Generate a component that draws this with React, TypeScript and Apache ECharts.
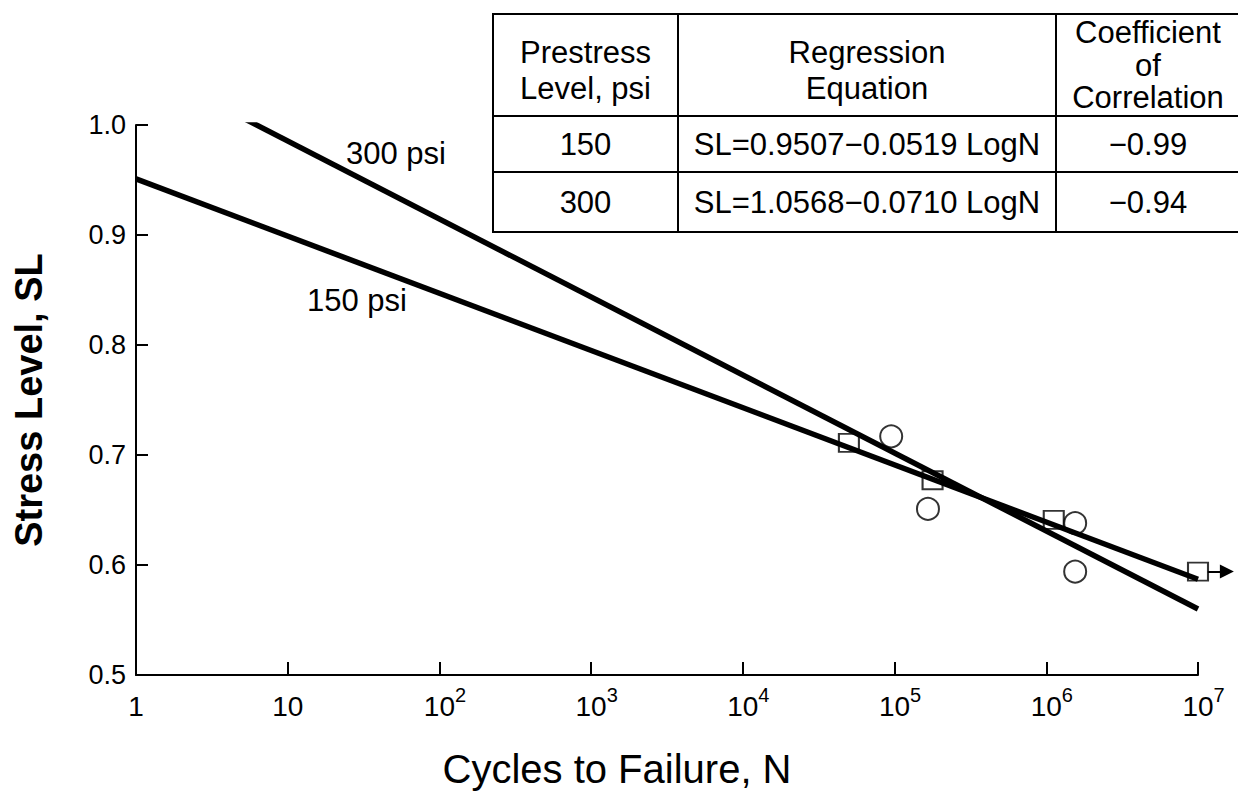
import React, { useEffect, useRef } from "react";
import * as echarts from "echarts";

// ---- data ----
const xMin = 1;
const xMax = 1e7;
const yMin = 0.5;
const yMax = 1.0;
const yInterval = 0.1;

// regression lines (end points as drawn)
const line150: [number, number][] = [
  [1, 0.951],
  [1e7, 0.587],
];
const line300: [number, number][] = [
  [5.3, 1.005],
  [1e7, 0.56],
];

// test results: squares and circles
const squarePoints: [number, number][] = [
  [5.0e4, 0.711],
  [1.78e5, 0.677],
  [1.12e6, 0.641],
  [1.0e7, 0.594],
];
const circlePoints: [number, number][] = [
  [9.5e4, 0.717],
  [1.66e5, 0.651],
  [1.55e6, 0.638],
  [1.55e6, 0.594],
];
// run-out arrow after the last square
const runoutArrow: [number, number][] = [
  [1.16e7, 0.594],
  [1.55e7, 0.594],
];

// table
const tableHeaders = ["Prestress\nLevel, psi", "Regression\nEquation", "Coefficient\nof\nCorrelation"];
const prestressLevels = ["150", "300"];
const equations = ["SL=0.9507\u22120.0519 LogN", "SL=1.0568\u22120.0710 LogN"];
const correlations = ["\u22120.99", "\u22120.94"];

const lineLabels = ["300 psi", "150 psi"];
const xTitle = "Cycles to Failure, N";
const yTitle = "Stress Level, SL";

const FONT = '"Liberation Sans", Arial, Helvetica, sans-serif';

export default function App() {
  const ref = useRef<HTMLDivElement>(null);

  useEffect(() => {
    if (!ref.current) return;
    const chart = echarts.init(ref.current, undefined, { renderer: "svg" });

    // table layout
    const tL = 493, tT = 14, tR = 1254;
    const rowB = [116, 172, 232];
    const colX = [493, 678, 1056, 1254];
    const colC = [(colX[0] + colX[1]) / 2, (colX[1] + colX[2]) / 2, 1148];
    const tableFont = `31px ${FONT}`;
    const lineStyle = { stroke: "#000", lineWidth: 2 };
    const tableEls: any[] = [
      { type: "rect", shape: { x: tL, y: tT, width: tR - tL, height: rowB[2] - tT }, style: { fill: "#fff", ...lineStyle } },
      { type: "line", shape: { x1: tL, y1: rowB[0], x2: tR, y2: rowB[0] }, style: lineStyle },
      { type: "line", shape: { x1: tL, y1: rowB[1], x2: tR, y2: rowB[1] }, style: lineStyle },
      { type: "line", shape: { x1: colX[1], y1: tT, x2: colX[1], y2: rowB[2] }, style: lineStyle },
      { type: "line", shape: { x1: colX[2], y1: tT, x2: colX[2], y2: rowB[2] }, style: lineStyle },
    ];
    const headerY = [70, 70, 65];
    const headerLH = [36, 36, 32.5];
    tableHeaders.forEach((h, i) => {
      tableEls.push({
        type: "text",
        style: { text: h, x: colC[i], y: headerY[i], font: tableFont, align: "center", verticalAlign: "middle", lineHeight: headerLH[i], fill: "#000" },
      });
    });
    const rowC = [(rowB[0] + rowB[1]) / 2, (rowB[1] + rowB[2]) / 2];
    prestressLevels.forEach((p, r) => {
      [p, equations[r], correlations[r]].forEach((t, c) => {
        tableEls.push({
          type: "text",
          style: { text: t, x: colC[c], y: rowC[r], font: tableFont, align: "center", verticalAlign: "middle", fill: "#000" },
        });
      });
    });

    const option: any = {
      animation: false,
      backgroundColor: "#fff",
      grid: { left: 136, right: 40, top: 125, bottom: 122, containLabel: false },
      xAxis: {
        type: "log",
        logBase: 10,
        min: xMin,
        max: xMax,
        splitNumber: 7,
        name: xTitle,
        nameLocation: "middle",
        nameGap: 74,
        nameTextStyle: { fontFamily: FONT, fontSize: 40, color: "#000", padding: [0, 100, 0, 0] },
        axisLine: { show: true, lineStyle: { color: "#000", width: 2 } },
        axisTick: { show: true, inside: true, length: 13, lineStyle: { color: "#000", width: 2 } },
        splitLine: { show: false },
        minorTick: { show: false },
        axisLabel: {
          margin: 10,
          color: "#000",
          fontFamily: FONT,
          formatter: (v: number) => {
            const e = Math.round(Math.log10(v));
            if (e === 0) return "{b|1}";
            if (e === 1) return "{b|10}";
            return `{p|}{b|10}{s|${e}}`;
          },
          rich: {
            b: { fontFamily: FONT, fontSize: 28, lineHeight: 42, color: "#000" },
            s: { fontFamily: FONT, fontSize: 20, lineHeight: 14, verticalAlign: "top", color: "#000" },
            p: { width: 11 },
          },
        },
      },
      yAxis: {
        type: "value",
        min: yMin,
        max: yMax,
        interval: yInterval,
        name: yTitle,
        nameLocation: "middle",
        nameRotate: 90,
        nameGap: 88,
        nameTextStyle: { fontFamily: FONT, fontSize: 38, fontWeight: "bold", color: "#000" },
        axisLine: { show: true, lineStyle: { color: "#000", width: 2 } },
        axisTick: { show: true, inside: true, length: 12, lineStyle: { color: "#000", width: 2 } },
        splitLine: { show: false },
        axisLabel: {
          margin: 10,
          color: "#000",
          fontFamily: FONT,
          fontSize: 27,
          formatter: (v: number) => v.toFixed(1),
        },
      },
      series: [
        {
          name: "150 psi data",
          type: "scatter",
          data: squarePoints,
          symbol: "rect",
          symbolSize: [20, 18],
          itemStyle: { color: "#fff", borderColor: "#000", borderWidth: 2 },
          z: 2,
        },
        {
          name: "300 psi data",
          type: "scatter",
          data: circlePoints,
          symbol: "circle",
          symbolSize: 22,
          itemStyle: { color: "#fff", borderColor: "#000", borderWidth: 2 },
          z: 2,
        },
        {
          name: "150 psi",
          type: "line",
          data: line150,
          symbol: "none",
          lineStyle: { color: "#000", width: 5.5 },
          z: 3,
        },
        {
          name: "300 psi",
          type: "line",
          data: line300,
          symbol: "none",
          lineStyle: { color: "#000", width: 5.5 },
          z: 3,
        },
        {
          name: "run-out",
          type: "lines",
          coordinateSystem: "cartesian2d",
          clip: false,
          symbol: ["none", "triangle"],
          symbolSize: [11, 14],
          lineStyle: { color: "#000", width: 2, opacity: 1, curveness: 0 },
          data: [{ coords: runoutArrow }],
          z: 3,
        },
      ],
      graphic: [
        ...tableEls,
        {
          type: "text",
          style: { text: lineLabels[0], x: 396, y: 153, font: `31px ${FONT}`, align: "center", verticalAlign: "middle", fill: "#000" },
        },
        {
          type: "text",
          style: { text: lineLabels[1], x: 357, y: 300, font: `31px ${FONT}`, align: "center", verticalAlign: "middle", fill: "#000" },
        },
      ],
    };
    chart.setOption(option);
    return () => chart.dispose();
  }, []);

  return (
    <div
      ref={ref}
      style={{ position: "fixed", left: 0, top: 0, width: 1238, height: 797, background: "#fff" }}
    />
  );
}
